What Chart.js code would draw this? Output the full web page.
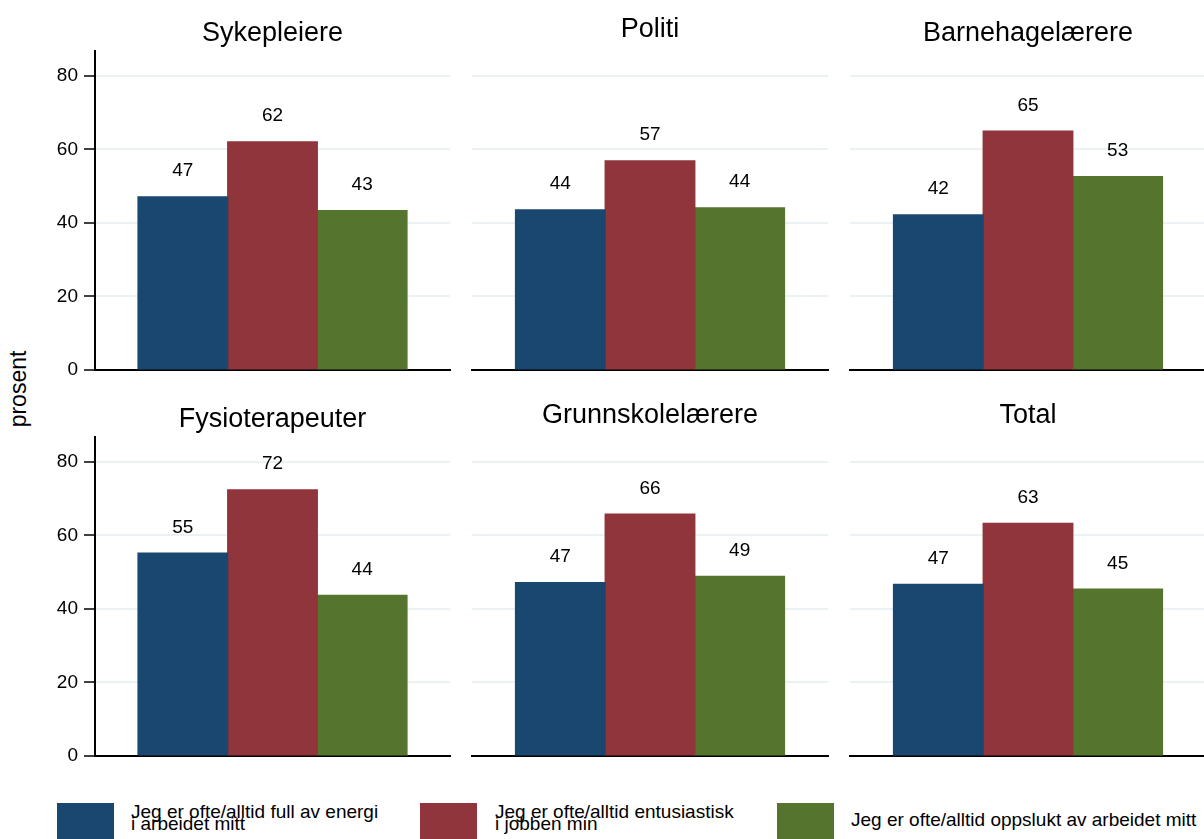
<!DOCTYPE html>
<html>
<head>
<meta charset="utf-8">
<script src="https://cdn.jsdelivr.net/npm/chart.js@4/dist/chart.umd.min.js"></script>
<style>
  html, body { margin: 0; padding: 0; background: #fff; overflow: hidden; }
  #wrap { position: relative; width: 1204px; height: 839px; overflow: hidden; background: #fff;
          font-family: "Liberation Sans", Arial, sans-serif; color: #000; }
  canvas { position: absolute; }
  .ytitle { position: absolute; left: 18px; top: 389px; font-size: 23px; white-space: nowrap;
            transform: translate(-50%, -50%) rotate(-90deg); }
  .lbox { position: absolute; top: 803px; width: 57px; height: 40px; }
  .ltext { position: absolute; font-size: 19px; line-height: 12px; white-space: nowrap; }
</style>
</head>
<body>
<div id="wrap">
  <div class="ytitle">prosent</div>
  <div id="legend"></div>
</div>
<script>
// ---- data ----
const categories = ['Sykepleiere', 'Politi', 'Barnehagelærere', 'Fysioterapeuter', 'Grunnskolelærere', 'Total'];
const seriesNames = [
  ['Jeg er ofte/alltid full av energi', 'i arbeidet mitt'],
  ['Jeg er ofte/alltid entusiastisk', 'i jobben min'],
  ['Jeg er ofte/alltid oppslukt av arbeidet mitt']
];
const energi       = [47.1, 43.6, 42.2, 55.2, 47.2, 46.7];
const entusiastisk = [62.1, 56.9, 65.0, 72.4, 65.8, 63.3];
const oppslukt     = [43.4, 44.1, 52.6, 43.7, 48.9, 45.4];
const yTicks = [0, 20, 40, 60, 80];

const seriesValues = [energi, entusiastisk, oppslukt];
const colors = ['#1a476f', '#90353b', '#55752f'];
const FONT = '"Liberation Sans", Arial, sans-serif';

// ---- layout ----
const cols = [
  { left: 0,   width: 460, yWidth: 95, showAxis: true },
  { left: 460, width: 378, yWidth: 12, showAxis: false },
  { left: 838, width: 378, yWidth: 12, showAxis: false }
];
const rows = [{ top: 0 }, { top: 386 }];
const CANVAS_H = 390;

const panelPlugin = {
  id: 'panelDecor',
  afterDatasetsDraw(chart, args, opts) {
    const ctx = chart.ctx;
    const area = chart.chartArea;
    ctx.save();
    // value labels
    ctx.font = '19px ' + FONT;
    ctx.fillStyle = '#000';
    ctx.textAlign = 'center';
    ctx.textBaseline = 'alphabetic';
    chart.data.datasets.forEach((ds, i) => {
      const meta = chart.getDatasetMeta(i);
      meta.data.forEach((bar, j) => {
        const v = ds.data[j];
        ctx.fillText(String(Math.round(v)), bar.x, bar.y - 20.5);
      });
    });
    // panel title
    ctx.font = '27px ' + FONT;
    const m = ctx.measureText(opts.title);
    const hasDesc = m.actualBoundingBoxDescent > 2;
    const baseline = area.top - (hasDesc ? 10.3 : 14);
    ctx.fillText(opts.title, (area.left + area.right) / 2, baseline);
    ctx.restore();
  }
};

const wrap = document.getElementById('wrap');

categories.forEach((cat, idx) => {
  const r = rows[Math.floor(idx / 3)];
  const c = cols[idx % 3];
  const cv = document.createElement('canvas');
  cv.width = c.width; cv.height = CANVAS_H;
  cv.style.left = c.left + 'px'; cv.style.top = r.top + 'px';
  cv.style.width = c.width + 'px'; cv.style.height = CANVAS_H + 'px';
  wrap.appendChild(cv);

  const plotW = c.width - c.yWidth - 10;
  new Chart(cv.getContext('2d'), {
    type: 'bar',
    data: {
      labels: [cat],
      datasets: seriesValues.map((vals, i) => ({
        label: seriesNames[i].join(' '),
        data: [vals[idx]],
        backgroundColor: colors[i],
        borderWidth: 0,
        inflateAmount: 0.6,
        barPercentage: 1.0,
        categoryPercentage: 269 / plotW
      }))
    },
    options: {
      responsive: false,
      animation: false,
      devicePixelRatio: 1,
      events: [],
      layout: { padding: { top: 51, bottom: 20, left: 0, right: 10 } },
      plugins: {
        legend: { display: false },
        tooltip: { enabled: false },
        title: { display: false },
        panelDecor: { title: cat }
      },
      scales: {
        x: {
          z: 1,
          ticks: { display: false },
          grid: { display: false },
          border: { display: true, color: '#000', width: 2 },
          afterFit: s => { s.height = 0; }
        },
        y: {
          min: 0,
          max: 86.8,
          ticks: {
            display: c.showAxis,
            stepSize: 20,
            color: '#000',
            padding: 6,
            font: { family: FONT, size: 19 }
          },
          afterBuildTicks: s => { s.ticks = yTicks.map(v => ({ value: v })); },
          grid: {
            color: '#eaf2f3',
            lineWidth: 2,
            drawTicks: c.showAxis,
            tickLength: 11,
            tickColor: '#000',
            tickWidth: 1.5
          },
          border: { display: c.showAxis, color: '#000', width: 2 },
          afterFit: s => { s.width = c.yWidth; }
        }
      }
    },
    plugins: [panelPlugin]
  });
});

// ---- legend (HTML) ----
const legendPos = [
  { box: 57, text: 131 },
  { box: 420, text: 495 },
  { box: 777, text: 851 }
];
const legend = document.getElementById('legend');
seriesNames.forEach((lines, i) => {
  const b = document.createElement('div');
  b.className = 'lbox';
  b.style.left = legendPos[i].box + 'px';
  b.style.background = colors[i];
  legend.appendChild(b);
  const t = document.createElement('div');
  t.className = 'ltext';
  t.style.left = legendPos[i].text + 'px';
  t.style.top = (lines.length > 1 ? 806.4 : 814.4) + 'px';
  t.innerHTML = lines.join('<br>');
  legend.appendChild(t);
});
</script>
</body>
</html>
